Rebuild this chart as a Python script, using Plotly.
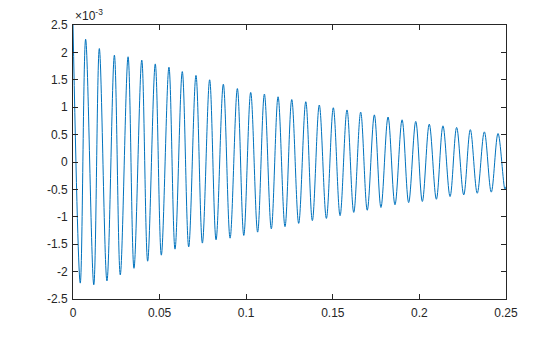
import plotly.graph_objects as go

# Signal values (amplitude in units of 1e-3)
start_t = [0.0]
start_v = [2.50]

peak_t = [0.0073, 0.0152, 0.0239, 0.0318, 0.0397, 0.0475, 0.0554, 0.0631, 0.0710, 0.0789,
          0.0868, 0.0949, 0.1026, 0.1105, 0.1184, 0.1263, 0.1344, 0.1422, 0.1503, 0.1582,
          0.1661, 0.1740, 0.1819, 0.1900, 0.1979, 0.2057, 0.2136, 0.2215, 0.2294, 0.2375,
          0.2454]
peak_v = [2.24, 2.07, 1.95, 1.92, 1.86, 1.79, 1.73, 1.65, 1.58, 1.50,
          1.42, 1.34, 1.27, 1.24, 1.19, 1.14, 1.10, 1.04, 0.99, 0.95,
          0.91, 0.86, 0.82, 0.77, 0.74, 0.69, 0.66, 0.63, 0.59, 0.55,
          0.52]

trough_t = [0.0042, 0.0120, 0.0196, 0.0273, 0.0352, 0.0431, 0.0510, 0.0589, 0.0668, 0.0747,
            0.0826, 0.0907, 0.0986, 0.1066, 0.1145, 0.1224, 0.1303, 0.1382, 0.1463, 0.1542,
            0.1621, 0.1699, 0.1778, 0.1859, 0.1938, 0.2017, 0.2098, 0.2177, 0.2256, 0.2334,
            0.2415, 0.2494]
trough_v = [-2.21, -2.24, -2.17, -2.06, -1.94, -1.81, -1.70, -1.59, -1.55, -1.48,
            -1.42, -1.39, -1.34, -1.28, -1.22, -1.18, -1.12, -1.07, -1.03, -0.98,
            -0.92, -0.88, -0.83, -0.78, -0.74, -0.72, -0.68, -0.63, -0.60, -0.57,
            -0.55, -0.50]

end_t = [0.25]
end_v = [-0.45]

x_ticks = [0, 0.05, 0.1, 0.15, 0.2, 0.25]
x_labels = ["0", "0.05", "0.1", "0.15", "0.2", "0.25"]
y_ticks = [-2.5, -2, -1.5, -1, -0.5, 0, 0.5, 1, 1.5, 2, 2.5]
y_labels = ["-2.5", "-2", "-1.5", "-1", "-0.5", "0", "0.5", "1", "1.5", "2", "2.5"]

pts = sorted(zip(start_t + peak_t + trough_t + end_t,
                 start_v + peak_v + trough_v + end_v))
t = [p[0] for p in pts]
v = [p[1] for p in pts]

FONT = "Liberation Sans, Arial, Helvetica, sans-serif"

fig = go.Figure()
fig.add_trace(go.Scatter(x=t, y=v, mode="lines",
                         line=dict(color="#0072BD", width=1, shape="spline", smoothing=1),
                         cliponaxis=True, showlegend=False))

axis_common = dict(showline=True, linecolor="#262626", linewidth=1, mirror="ticks",
                   ticks="inside", ticklen=5, tickcolor="#262626", tickwidth=1,
                   showgrid=False, zeroline=False,
                   tickfont=dict(family=FONT, size=12, color="#262626"))

fig.update_xaxes(range=[0, 0.25], tickvals=x_ticks, ticktext=x_labels,
                 ticklabelstandoff=3, **axis_common)
fig.update_yaxes(range=[-2.5, 2.5], tickvals=y_ticks, ticktext=y_labels,
                 ticklabelstandoff=2, **axis_common)

fig.add_annotation(text="×10<sup>-3</sup>", xref="paper", yref="paper", x=0, y=1,
                   xanchor="left", yanchor="bottom", showarrow=False, yshift=0,
                   font=dict(family=FONT, size=12, color="#262626"))

fig.update_layout(width=560, height=337, margin=dict(l=73, r=54, t=25, b=38),
                  paper_bgcolor="white", plot_bgcolor="white")

fig.write_html("out.html")
